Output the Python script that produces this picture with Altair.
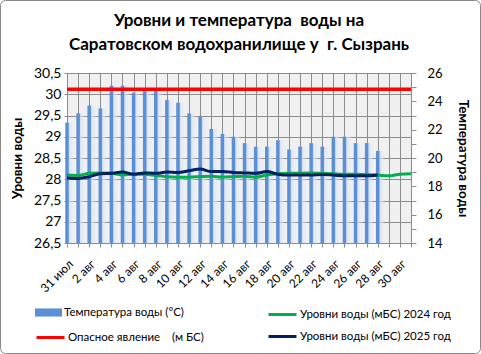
import altair as alt
import pandas as pd

days = ["31 июл", "1 авг", "2 авг", "3 авг", "4 авг", "5 авг", "6 авг", "7 авг",
        "8 авг", "9 авг", "10 авг", "11 авг", "12 авг", "13 авг", "14 авг", "15 авг",
        "16 авг", "17 авг", "18 авг", "19 авг", "20 авг", "21 авг", "22 авг", "23 авг",
        "24 авг", "25 авг", "26 авг", "27 авг", "28 авг", "29 авг", "30 авг", "31 авг"]

temperature = [22.5, 23.15, 23.7, 23.5, 25.1, 25.1, 24.6, 24.75, 24.75, 24.1, 23.9,
               23.15, 22.9, 22.05, 21.7, 21.5, 21.05, 20.8, 20.8, 21.25, 20.6, 20.8,
               21.05, 20.8, 21.5, 21.5, 21.05, 21.05, 20.5]

level_2024 = [28.10, 28.09, 28.14, 28.15, 28.14, 28.10, 28.12, 28.12, 28.09, 28.06,
              28.05, 28.05, 28.06, 28.07, 28.05, 28.06, 28.07, 28.05, 28.10, 28.13,
              28.14, 28.14, 28.15, 28.14, 28.13, 28.12, 28.12, 28.11, 28.10, 28.08,
              28.12, 28.13]

level_2025 = [28.03, 28.02, 28.06, 28.13, 28.14, 28.17, 28.12, 28.15, 28.14, 28.17,
              28.16, 28.20, 28.24, 28.18, 28.18, 28.16, 28.15, 28.14, 28.18, 28.12,
              28.10, 28.10, 28.10, 28.11, 28.10, 28.08, 28.08, 28.08, 28.10]

danger_level = 30.12

NB = "\u00a0"
temp_label = "Температура воды (°С)"
danger_label = "Опасное явление" + NB * 4 + "(м БС)"
l2024_label = "Уровни воды (мБС)" + NB + "2024 год"
l2025_label = "Уровни воды (мБС)" + NB + "2025 год"
title_lines = ["Уровни и температура" + NB + NB + "воды на",
               "Саратовском водохранилище у" + NB + NB + "г. Сызрань"]

temp_domain = [14, 26]
level_domain = [26.5, 30.5]

FONT = "Lato"

temp_df = pd.DataFrame({"day": days[:len(temperature)], "temp": temperature,
                        "series": temp_label})
level_df = pd.concat([
    pd.DataFrame({"day": days[:len(level_2024)], "value": level_2024, "series": l2024_label}),
    pd.DataFrame({"day": days[:len(level_2025)], "value": level_2025, "series": l2025_label}),
], ignore_index=True)
danger_df = pd.DataFrame({"value": [danger_level], "series": [danger_label]})
frame_df = pd.DataFrame({"k": [0]})

days_js = "[" + ",".join("'" + d + "'" for d in days) + "]"

x_enc = alt.X(
    "day:O",
    scale=alt.Scale(type="point", padding=0, domain=days),
    axis=alt.Axis(
        title=None, grid=True, gridColor="#8c8c8c", gridWidth=1,
        labelExpr=f"indexof({days_js}, datum.value) % 2 === 0 ? datum.value : ''",
        labelAngle=-45, labelFontSize=12, labelFont=FONT, labelColor="black",
        labelOverlap=False, labelPadding=11, tickSize=4, tickColor="#8c8c8c",
        domainColor="#8c8c8c",
    ),
)

temp_y = alt.Y(
    "temp:Q",
    scale=alt.Scale(domain=temp_domain, zero=False, nice=False),
    axis=alt.Axis(
        orient="right", title="Температура воды", titleFont=FONT, titleFontSize=13.5,
        titleFontWeight="bold", titleColor="black", titlePadding=13,
        values=list(range(14, 27)), labelExpr="datum.value % 2 === 0 ? datum.label : ''",
        grid=False, labelFont=FONT, labelFontSize=13, labelColor="black",
        tickSize=5, tickColor="#8c8c8c", domainColor="#8c8c8c", labelPadding=11,
    ),
)

halo = alt.Chart(temp_df).mark_bar(
    size=9, xOffset=3.5,
    color=alt.Gradient(
        gradient="linear", x1=0, x2=1, y1=0, y2=0,
        stops=[alt.GradientStop(color="rgba(150,185,232,0.75)", offset=0),
               alt.GradientStop(color="rgba(215,228,246,0.7)", offset=0.45),
               alt.GradientStop(color="rgba(240,240,240,0.0)", offset=1)],
    ),
).encode(x=x_enc, y=temp_y, y2=alt.datum(temp_domain[0]))

bars = alt.Chart(temp_df).mark_bar(size=3.5).encode(
    x=x_enc, y=temp_y, y2=alt.datum(temp_domain[0]),
    fill=alt.Fill(
        "series:N", scale=alt.Scale(domain=[temp_label], range=["#5b8fd6"]),
        legend=alt.Legend(
            title=None, orient="none", legendX=-32, legendY=226,
            symbolType="M-1,-0.3L1,-0.3L1,0.3L-1,0.3Z", symbolSize=729,
            symbolStrokeWidth=0, labelFont=FONT, labelFontSize=11.5, labelColor="black",
            labelOffset=2, padding=0,
        ),
    ),
)

level_y = alt.Y(
    "value:Q",
    scale=alt.Scale(domain=level_domain, zero=False, nice=False),
    axis=alt.Axis(
        orient="left", title="Уровни воды", titleFont=FONT, titleFontSize=13.5,
        titleFontWeight="bold", titleColor="black", titlePadding=9,
        values=[26.5, 27, 27.5, 28, 28.5, 29, 29.5, 30, 30.5],
        labelExpr="replace(toString(datum.value), '.', ',')",
        grid=True, gridColor="#8c8c8c", gridWidth=1,
        labelFont=FONT, labelFontSize=14, labelColor="black",
        tickSize=3, tickColor="#8c8c8c", domainColor="#8c8c8c", labelPadding=3,
    ),
)

rule = alt.Chart(danger_df).mark_rule(color="#ff0000", strokeWidth=3.5).encode(
    y=level_y,
    strokeDash=alt.StrokeDash(
        "series:N", scale=alt.Scale(domain=[danger_label], range=[[1, 0]]),
        legend=alt.Legend(
            title=None, orient="none", legendX=-32, legendY=249,
            symbolType="stroke", symbolSize=784, symbolStrokeWidth=3,
            symbolStrokeColor="#ff0000", labelFont=FONT, labelFontSize=11.5,
            labelColor="black", labelOffset=2, padding=0,
        ),
    ),
)

lines = alt.Chart(level_df).mark_line(strokeWidth=3, interpolate="monotone").encode(
    x=x_enc, y=level_y,
    color=alt.Color(
        "series:N",
        scale=alt.Scale(domain=[l2024_label, l2025_label], range=["#00b050", "#002060"]),
        legend=alt.Legend(
            title=None, orient="none", legendX=200, legendY=226, direction="vertical",
            symbolType="stroke", symbolSize=784, symbolStrokeWidth=3,
            labelFont=FONT, labelFontSize=11.5, labelColor="black", labelOffset=2,
            padding=0, rowPadding=0,
        ),
    ),
)

frame = alt.Chart(frame_df).mark_rect(
    fill="transparent", stroke="#8a8a8a", strokeWidth=1, cornerRadius=5, clip=False
).encode(x=alt.value(-66.5), x2=alt.value(413.5), y=alt.value(-72.5), y2=alt.value(280.5))

temp_layer = alt.layer(halo, bars)
level_layer = alt.layer(rule, lines)

chart = alt.layer(temp_layer, level_layer, frame).resolve_scale(y="independent").properties(
    width=344, height=170,
    autosize="none",
    padding={"left": 67, "top": 73, "right": 70, "bottom": 111},
    background="white",
    title=alt.Title(
        title_lines,
        font=FONT, fontSize=17, fontWeight="bold", color="black",
        anchor="middle", offset=-54, lineHeight=24,
    ),
).configure_view(fill="#f0f0f0", stroke=None)

chart.save("out.html", embed_options={"renderer": "svg", "actions": False})
